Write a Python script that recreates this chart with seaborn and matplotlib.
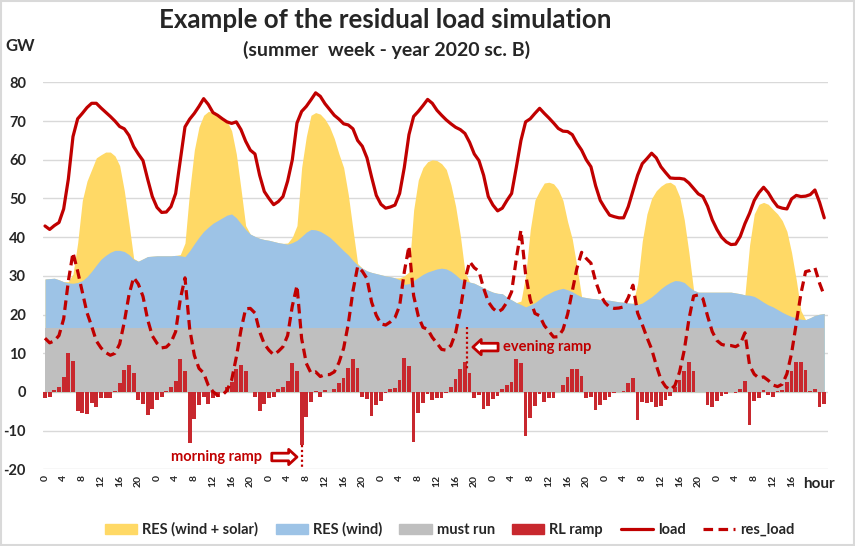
import matplotlib
matplotlib.use('Agg')
import matplotlib.pyplot as plt
import pandas as pd
import seaborn as sns
from matplotlib.patches import Patch, Rectangle
from matplotlib.lines import Line2D

# ---------------- data (hourly, one summer week) ----------------
hours = list(range(168))

load = [
    42.9, 42.0, 43.0, 43.8, 47.3, 55.0, 66.0, 70.6, 72.0, 73.5, 74.6, 74.6, 73.4, 72.3, 71.2, 70.0, 68.6, 68.0, 66.3, 63.4, 61.5, 59.8, 55.0, 50.5,
    47.7, 46.4, 46.5, 47.9, 51.3, 60.0, 68.5, 70.5, 72.0, 73.8, 75.8, 74.3, 72.2, 71.5, 70.6, 69.8, 69.4, 69.8, 67.8, 64.8, 62.5, 61.5, 56.0, 51.8,
    50.0, 48.4, 49.2, 50.5, 54.5, 60.0, 69.5, 72.5, 73.8, 75.5, 77.3, 76.4, 74.5, 73.0, 71.5, 70.5, 69.3, 69.0, 68.0, 65.0, 63.5, 60.5, 55.5, 50.8,
    48.5, 47.5, 47.8, 48.3, 51.3, 58.0, 66.5, 71.2, 72.5, 74.0, 75.6, 74.6, 72.8, 71.5, 70.3, 69.3, 68.4, 67.8, 66.8, 64.5, 61.5, 59.8, 56.0, 50.5,
    48.3, 46.8, 47.5, 49.5, 51.3, 58.0, 65.0, 69.8, 70.6, 72.0, 73.3, 72.0, 70.8, 69.5, 68.1, 67.4, 67.3, 66.5, 64.3, 62.5, 60.0, 58.2, 53.3, 49.5,
    47.5, 45.7, 45.3, 45.0, 45.0, 47.9, 52.0, 56.0, 59.0, 60.3, 61.7, 60.5, 58.2, 56.7, 55.3, 55.2, 55.2, 55.0, 54.0, 52.6, 51.2, 50.5, 48.0, 44.5,
    42.0, 40.0, 38.8, 38.1, 38.2, 40.2, 43.5, 46.2, 49.5, 51.5, 52.9, 51.5, 49.5, 47.9, 47.5, 47.3, 49.9, 50.8, 50.5, 50.6, 51.0, 52.2, 49.0, 45.0,
]

res_total = [
    29.2, 29.3, 29.4, 29.0, 28.5, 28.5, 30.5, 38.5, 49.5, 54.5, 57.5, 60.5, 61.3, 62.0, 62.0, 61.0, 58.5, 52.0, 43.5, 34.5, 33.8, 34.4, 35.0, 35.1,
    35.2, 35.2, 35.2, 35.2, 35.3, 35.5, 38.5, 52.0, 62.5, 68.5, 71.5, 72.5, 72.3, 71.5, 71.0, 70.0, 67.5, 61.5, 52.5, 43.0, 40.8, 40.2, 39.7, 39.4,
    39.2, 38.9, 38.6, 38.4, 38.5, 40.0, 43.0, 58.0, 66.0, 71.5, 72.2, 71.8, 70.5, 68.5, 65.5, 61.5, 58.0, 51.0, 42.0, 33.2, 32.0, 31.3, 30.9, 30.6,
    30.3, 30.0, 29.8, 29.5, 29.5, 30.0, 31.0, 47.0, 54.8, 58.0, 59.5, 60.0, 59.8, 59.0, 57.5, 53.5, 48.0, 40.5, 31.0, 28.4, 28.1, 27.5, 26.9, 26.3,
    25.8, 25.5, 25.4, 24.5, 23.8, 23.1, 23.5, 30.0, 42.0, 49.6, 52.0, 54.0, 54.2, 53.8, 52.3, 49.5, 44.0, 39.5, 32.4, 24.6, 24.4, 24.2, 24.1, 23.9,
    23.8, 23.7, 23.5, 23.3, 23.2, 23.0, 22.9, 28.0, 39.0, 46.0, 50.0, 52.0, 53.2, 54.0, 54.2, 53.4, 50.5, 44.5, 36.0, 26.3, 25.8, 25.8, 25.8, 25.8,
    25.8, 25.8, 25.8, 25.8, 25.6, 25.4, 25.1, 38.0, 46.0, 48.5, 49.0, 48.5, 47.2, 46.0, 44.3, 41.5, 36.0, 29.0, 21.0, 18.7, 19.2, 19.8, 20.1, 20.3,
]

res_wind = [
    29.2, 29.3, 29.4, 29.0, 28.5, 28.2, 28.1, 28.3, 28.8, 29.8, 31.2, 32.8, 34.3, 35.3, 36.1, 36.6, 36.6, 36.3, 35.5, 34.3, 33.8, 34.4, 35.0, 35.1,
    35.2, 35.2, 35.2, 35.2, 35.3, 35.2, 35.0, 36.5, 38.3, 40.0, 41.5, 42.6, 43.6, 44.3, 45.0, 45.7, 46.0, 45.0, 43.5, 42.0, 40.8, 40.2, 39.7, 39.4,
    39.2, 38.9, 38.6, 38.4, 38.2, 38.6, 39.2, 40.2, 41.3, 42.0, 41.9, 41.5, 40.8, 40.0, 38.9, 37.7, 36.5, 35.4, 34.0, 32.8, 32.0, 31.3, 30.9, 30.6,
    30.3, 30.0, 29.8, 29.5, 29.0, 27.8, 28.0, 28.8, 29.6, 30.4, 31.0, 31.4, 31.8, 32.0, 31.8, 31.2, 30.3, 29.2, 28.7, 28.4, 28.1, 27.5, 26.9, 26.3,
    25.8, 25.5, 25.4, 24.5, 23.8, 23.1, 22.6, 22.0, 22.5, 23.1, 24.0, 24.9, 25.5, 26.1, 26.5, 26.8, 26.4, 25.9, 25.2, 24.6, 24.4, 24.2, 24.1, 23.9,
    23.8, 23.7, 23.5, 23.3, 23.2, 23.0, 22.9, 22.6, 23.0, 23.8, 24.6, 25.6, 26.7, 27.6, 28.3, 28.8, 28.7, 28.3, 27.2, 26.3, 25.8, 25.8, 25.8, 25.8,
    25.8, 25.8, 25.8, 25.8, 25.6, 25.4, 25.1, 25.0, 24.7, 24.0, 23.2, 22.5, 22.0, 21.3, 20.6, 20.0, 19.5, 19.2, 18.8, 18.7, 19.2, 19.8, 20.1, 20.3,
]

must_run = [16.6] * 168

rl_ramp = [
    -1.6, -1.2, 0.5, 1.4, 4.0, 10.0, 8.1, -4.8, -5.3, -5.7, -2.9, -4.0, -1.6, -1.5, -1.5, 0.3, 2.4, 5.7, 7.0, 5.0, -2.0, -3.2, -6.0, -4.5,
    -2.0, -1.2, 0.3, 1.2, 2.8, 8.4, 5.5, -13.1, -6.9, -3.4, -1.2, -3.2, -1.6, -1.4, 0.1, 1.2, 2.7, 5.9, 7.0, 5.5, 0.1, -1.2, -4.8, -3.2,
    -1.6, -1.2, 0.9, 1.2, 2.9, 7.6, 5.3, -13.7, -6.4, -2.5, 0.3, -1.2, 0.5, 0.0, 0.7, 2.4, 3.7, 6.3, 8.5, 6.3, -1.2, -1.9, -6.1, -3.4,
    -2.2, -0.3, 0.8, 1.1, 3.1, 8.7, 6.7, -12.8, -5.3, -2.9, -0.5, -2.1, -1.5, -1.6, -0.2, 1.2, 3.3, 5.9, 7.7, 4.8, -1.6, -0.9, -4.4, -3.5,
    -1.7, -1.0, 0.8, 1.8, 2.7, 8.5, 7.4, -11.4, -6.6, -3.5, -0.6, -2.5, -1.5, -1.5, 0.1, 1.8, 4.0, 6.0, 5.9, 4.1, -1.6, -1.2, -4.7, -3.4,
    -2.1, -1.2, -0.3, 0.1, 0.3, 2.4, 3.7, -7.2, -2.5, -2.9, -2.5, -3.8, -3.6, -2.1, -1.0, 1.2, 3.1, 5.4, 7.7, 5.4, 0.1, 0.1, -3.4, -4.0,
    -2.3, -1.0, -0.6, 0.1, -0.3, 0.7, 2.9, -8.4, -2.3, -1.5, 0.5, -0.9, -1.2, 0.3, 0.6, 2.7, 5.3, 7.7, 7.7, 5.7, 0.3, 0.7, -4.0, -3.2,
]

res_load = [
    13.9, 12.7, 13.2, 14.6, 18.9, 28.6, 36.0, 31.2, 25.9, 20.5, 17.0, 13.2, 11.4, 10.2, 9.5, 10.0, 12.4, 18.1, 25.1, 29.6, 27.9, 24.7, 18.7, 14.5,
    12.6, 11.4, 11.6, 12.8, 15.6, 24.0, 29.5, 16.4, 9.5, 6.1, 4.9, 1.7, 0.1, -0.9, -0.8, 0.4, 3.1, 9.0, 16.0, 21.5, 21.6, 20.4, 15.6, 12.4,
    10.8, 9.6, 10.5, 11.7, 14.6, 22.2, 27.5, 13.8, 7.4, 4.9, 5.2, 4.0, 4.5, 4.5, 5.2, 7.6, 11.3, 17.6, 26.1, 32.4, 31.2, 29.3, 23.2, 19.8,
    17.6, 17.3, 18.1, 19.2, 22.3, 31.0, 37.7, 24.9, 19.6, 16.7, 16.2, 14.1, 12.6, 11.0, 10.8, 12.0, 15.3, 21.2, 28.9, 33.7, 32.1, 31.2, 26.8, 23.3,
    21.6, 20.6, 21.4, 23.2, 25.9, 34.4, 41.8, 30.4, 23.8, 20.3, 19.7, 17.2, 15.7, 14.2, 14.3, 16.1, 20.1, 26.1, 32.0, 36.1, 34.5, 33.3, 28.6, 25.2,
    23.1, 21.9, 21.6, 21.7, 22.0, 24.4, 27.6, 20.4, 17.4, 14.1, 11.1, 6.9, 3.2, 1.4, 0.5, 1.7, 5.2, 10.8, 18.8, 24.8, 25.1, 24.1, 19.6, 15.6,
    13.3, 12.3, 12.0, 12.0, 11.7, 12.4, 15.3, 6.9, 4.6, 3.6, 3.9, 3.0, 1.8, 1.4, 2.0, 4.7, 10.0, 17.7, 25.4, 31.1, 31.4, 32.1, 28.1, 24.9,
]

tick_hours = list(range(0, 164, 4))
tick_labels = [str(h % 24) for h in tick_hours]
y_ticks = list(range(-20, 90, 10))

title = 'Example of the residual load simulation'
subtitle = '(summer  week - year 2020 sc. B)'
legend_labels = ['RES (wind + solar)', 'RES (wind)', 'must run', 'RL ramp', 'load', 'res_load']

# ---------------- style ----------------
C_YEL = '#FFD966'
C_BLU = '#9DC3E6'
C_GRY = '#BFBFBF'
C_BAR = '#C8282E'
C_RED = '#C00000'
C_TXT = '#262626'
FONT = ['Lato', 'DejaVu Sans']

sns.set_style('white')
plt.rcParams['font.family'] = FONT

df = pd.DataFrame({'hour': hours, 'load': load, 'res_total': res_total,
                   'res_wind': res_wind, 'must_run': must_run,
                   'rl_ramp': rl_ramp, 'res_load': res_load})

fig = plt.figure(figsize=(8.55, 5.46), dpi=100)
ax = fig.add_axes([0.0499, 0.1403, 0.9185, 0.7088])

ax.fill_between(df['hour'], 0, df['res_total'], color=C_YEL, lw=0, zorder=2)
ax.fill_between(df['hour'], 0, df['res_wind'], color=C_BLU, lw=0, zorder=3)
ax.fill_between(df['hour'], 0, df['must_run'], color=C_GRY, lw=0, zorder=4)

sns.barplot(data=df, x='hour', y='rl_ramp', native_scale=True, color=C_BAR,
            saturation=1, width=0.8, errorbar=None, linewidth=0, ax=ax, zorder=5)

sns.lineplot(data=df, x='hour', y='load', color=C_RED, lw=2.3, ax=ax, zorder=6)
ax.lines[-1].set_solid_joinstyle('round')
sns.lineplot(data=df, x='hour', y='res_load', color=C_RED, lw=2.3, ax=ax, zorder=7)
ln = ax.lines[-1]
ln.set_dashes([3.0, 1.7])

# annotations
ev_x, ev_top, ev_bot = 90.5, 16.9, 5.6
mo_x, mo_top, mo_bot = 55.0, -13.7, -20.0
ax.plot([ev_x, ev_x], [ev_top, ev_bot], ls=(0, (1, 1.2)), color=C_RED, lw=1.6, zorder=8)
ax.plot([mo_x, mo_x], [mo_top, mo_bot], ls=(0, (1, 1.2)), color=C_RED, lw=1.6, zorder=8, clip_on=False)

arrow_style = 'simple,head_length=0.6,head_width=1.1,tail_width=0.55'
ax.annotate('', xy=(91.7, 11.6), xytext=(97.1, 11.6),
            arrowprops=dict(arrowstyle=arrow_style, fc='white', ec=C_RED, lw=2.0,
                            shrinkA=0, shrinkB=0), zorder=9)
ax.text(98.2, 11.6, 'evening ramp', color=C_RED, fontsize=10.5, fontweight='bold',
        va='center', ha='left', zorder=9)
ax.annotate('', xy=(54.0, -16.8), xytext=(48.6, -16.8),
            arrowprops=dict(arrowstyle=arrow_style, fc='white', ec=C_RED, lw=2.0,
                            shrinkA=0, shrinkB=0), zorder=9)
ax.text(46.6, -16.8, 'morning ramp', color=C_RED, fontsize=10.5, fontweight='bold',
        va='center', ha='right', zorder=9)

# axes
ax.set_xlim(-0.5, 167.8)
ax.set_ylim(-20, 80)
ax.set_yticks(y_ticks)
ax.set_yticklabels([str(v) for v in y_ticks], fontsize=10.5, fontweight='bold', color=C_TXT)
ax.set_xticks(tick_hours)
ax.set_xticklabels(tick_labels, rotation=90, fontsize=7.5, fontweight='bold', color=C_TXT)
ax.tick_params(axis='y', length=0, pad=12)
ax.tick_params(axis='x', length=0, pad=4)
ax.set_xlabel('')
ax.set_ylabel('')
ax.set_axisbelow(True)
ax.yaxis.grid(True, color='#D9D9D9', lw=1.0)
ax.xaxis.grid(False)
for s in ax.spines.values():
    s.set_visible(False)

ax.text(162.4, -23.8, 'hour', ha='left', va='center', fontsize=11, fontweight='bold',
        color=C_TXT, clip_on=False)

fig.text(0.451, 1 - 20 / 546, title, ha='center', va='center', fontsize=18.6,
         fontweight='bold', color=C_TXT)
fig.text(0.452, 1 - 50 / 546, subtitle, ha='center', va='center', fontsize=14,
         fontweight='bold', color=C_TXT)
fig.text(5 / 855, 1 - 46 / 546, 'GW', ha='left', va='center', fontsize=12,
         fontweight='bold', color=C_TXT)

handles = [Patch(color=C_YEL), Patch(color=C_BLU), Patch(color=C_GRY), Patch(color=C_BAR),
           Line2D([], [], color=C_RED, lw=2.3),
           Line2D([], [], color=C_RED, lw=2.3, dashes=[3.0, 1.7])]
fig.legend(handles, legend_labels, loc='center', bbox_to_anchor=(0.526, 0.030), ncol=6,
           frameon=False, handlelength=2.2, handleheight=0.7, columnspacing=1.2,
           handletextpad=0.35, prop={'family': FONT, 'weight': 'bold', 'size': 10.5},
           labelcolor=C_TXT)

fig.add_artist(Rectangle((0.001, 0.001), 0.998, 0.998, transform=fig.transFigure,
                         fill=False, ec='#D9D9D9', lw=1.5))

fig.savefig('out.png', dpi=100, facecolor='white')
